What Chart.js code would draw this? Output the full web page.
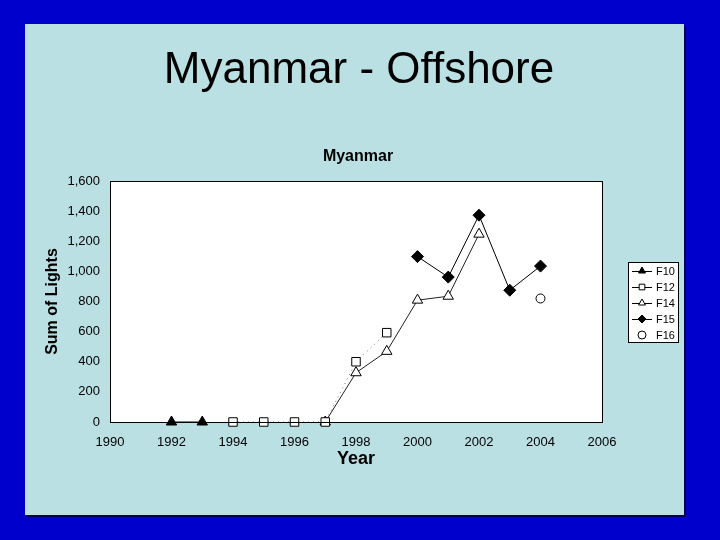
<!DOCTYPE html>
<html>
<head>
<meta charset="utf-8">
<script src="https://cdn.jsdelivr.net/npm/chart.js@4.4.1/dist/chart.umd.min.js"></script>
<style>
    html, body { margin: 0; padding: 0; background: #0000cc; }
    #wrap { width: 720px; height: 540px; }
</style>
</head>
<body>
<div id="wrap"><canvas id="chart" width="720" height="540"></canvas></div>
<script>
// values
var f10Years = [1992, 1993];
var f10Values = [0, 0];
var f12Years = [1994, 1995, 1996, 1997, 1998, 1999];
var f12Values = [0, 0, 0, 0, 400, 593];
var f14Years = [1997, 1998, 1999, 2000, 2001, 2002];
var f14Values = [0, 327, 469, 809, 835, 1247];
var f15Years = [2000, 2001, 2002, 2003, 2004];
var f15Values = [1098, 962, 1373, 875, 1035];
var f16Years = [2004];
var f16Values = [820];

var xTicks = [1990, 1992, 1994, 1996, 1998, 2000, 2002, 2004, 2006];
var yTicks = [0, 200, 400, 600, 800, 1000, 1200, 1400, 1600];

var slideTitle = 'Myanmar - Offshore';
var chartTitle = 'Myanmar';

var FONT = "'Liberation Sans', Arial, sans-serif";

function toPoints(years, values) {
    return years.map(function (y, i) {
        return { x: y, y: values[i] };
    });
}

function series(label, years, values, style) {
    return {
        label: label,
        data: toPoints(years, values),
        clip: false,
        borderColor: style.line || '#000',
        borderWidth: 1,
        borderDash: style.dash || [],
        showLine: style.showLine !== false,
        pointStyle: style.point,
        pointRadius: style.radius,
        pointHoverRadius: style.radius,
        pointBackgroundColor: style.fill,
        pointBorderColor: '#000',
        pointBorderWidth: 1,
        tension: 0
    };
}

var datasets = [
    series('F10', f10Years, f10Values, { point: 'triangle', radius: 6, fill: '#000' }),
    series('F12', f12Years, f12Values, { point: 'rect', radius: 6, fill: '#fff', line: '#777', dash: [1, 4] }),
    series('F14', f14Years, f14Values, { point: 'triangle', radius: 6, fill: '#fff', line: '#222' }),
    series('F15', f15Years, f15Values, { point: 'rectRot', radius: 6, fill: '#000' }),
    series('F16', f16Years, f16Values, { point: 'circle', radius: 4.5, fill: '#fff', showLine: false })
];

var backdrop = {
    id: 'backdrop',
    beforeDraw: function (chart) {
        var ctx = chart.ctx;
        var a = chart.chartArea;
        ctx.save();
        ctx.fillStyle = '#0000cc';
        ctx.fillRect(0, 0, chart.width, chart.height);
        ctx.fillStyle = '#000055';
        ctx.fillRect(27, 26, 659, 491);
        ctx.fillStyle = '#bbe0e3';
        ctx.fillRect(25, 24, 659, 491);
        ctx.fillStyle = '#fff';
        ctx.fillRect(a.left, a.top, a.right - a.left, a.bottom - a.top);

        // slide heading and chart title
        ctx.fillStyle = '#000';
        ctx.textAlign = 'center';
        ctx.textBaseline = 'alphabetic';
        ctx.font = '44px ' + FONT;
        ctx.fillText(slideTitle, 359, 83);
        ctx.font = 'bold 16px ' + FONT;
        ctx.fillText(chartTitle, 358, 161);
        ctx.restore();
    },
    afterDraw: function (chart) {
        var ctx = chart.ctx;
        var a = chart.chartArea;
        ctx.save();
        ctx.strokeStyle = '#000';
        ctx.lineWidth = 1;
        ctx.strokeRect(a.left + 0.5, a.top + 0.5, a.right - a.left, a.bottom - a.top);

        // legend box like the original
        var bx = 628, by = 262, bw = 50, bh = 80;
        ctx.fillStyle = '#fff';
        ctx.fillRect(bx, by, bw, bh);
        ctx.strokeRect(bx + 0.5, by + 0.5, bw, bh);
        ctx.font = '11px ' + FONT;
        ctx.textBaseline = 'middle';
        chart.data.datasets.forEach(function (ds, i) {
            var y = by + 9 + i * 16;
            if (ds.showLine) {
                ctx.beginPath();
                ctx.moveTo(bx + 4, y + 0.5);
                ctx.lineTo(bx + 24, y + 0.5);
                ctx.strokeStyle = '#000';
                ctx.stroke();
            }
            ctx.save();
            ctx.fillStyle = ds.pointBackgroundColor;
            ctx.strokeStyle = '#000';
            Chart.helpers.drawPoint(ctx, {
                pointStyle: ds.pointStyle,
                radius: Math.min(ds.pointRadius, 4),
                rotation: 0,
                borderWidth: 1
            }, bx + 14, y);
            ctx.restore();
            ctx.fillStyle = '#000';
            ctx.fillText(ds.label, bx + 28, y + 1);
        });
        ctx.restore();
    }
};

var ctx = document.getElementById('chart').getContext('2d');
var chart = new Chart(ctx, {
    type: 'line',
    data: { datasets: datasets },
    plugins: [backdrop],
    options: {
        responsive: false,
        animation: false,
        layout: { padding: { left: 25, right: 118, top: 181, bottom: 70 } },
        plugins: {
            legend: { display: false },
            tooltip: { enabled: false }
        },
        scales: {
            x: {
                type: 'linear',
                min: xTicks[0],
                max: xTicks[xTicks.length - 1],
                afterBuildTicks: function (scale) {
                    scale.ticks = xTicks.map(function (v) { return { value: v }; });
                },
                afterFit: function (scale) { scale.height = 48; },
                grid: { display: false, drawTicks: false },
                border: { display: true, color: '#000', width: 1 },
                ticks: {
                    padding: 13,
                    color: '#000',
                    font: { family: FONT, size: 13 },
                    callback: function (v) { return String(v); }
                },
                title: {
                    display: true,
                    text: 'Year',
                    color: '#000',
                    font: { family: FONT, size: 18, weight: 'bold' },
                    padding: { top: 0, bottom: 0 }
                }
            },
            y: {
                min: yTicks[0],
                max: yTicks[yTicks.length - 1],
                afterBuildTicks: function (scale) {
                    scale.ticks = yTicks.map(function (v) { return { value: v }; });
                },
                afterFit: function (scale) { scale.width = 85; },
                grid: { display: false, drawTicks: false },
                border: { display: true, color: '#000', width: 1 },
                ticks: {
                    padding: 10,
                    color: '#000',
                    font: { family: FONT, size: 13 },
                    callback: function (v) { return v.toLocaleString('en-US'); }
                },
                title: {
                    display: true,
                    text: 'Sum of Lights',
                    color: '#000',
                    font: { family: FONT, size: 16, weight: 'bold' },
                    padding: { top: 18, bottom: 0 }
                }
            }
        }
    }
});
</script>
</body>
</html>
